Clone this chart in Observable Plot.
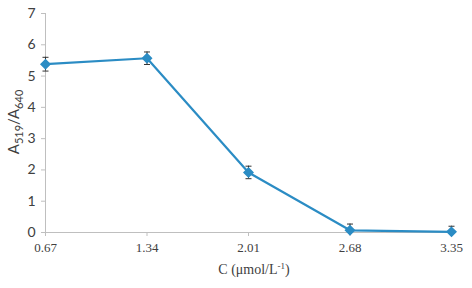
<!DOCTYPE html>
<html>
<head>
<meta charset="utf-8">
<script src="https://cdn.jsdelivr.net/npm/d3@7"></script>
<script src="https://cdn.jsdelivr.net/npm/@observablehq/plot@0.6"></script>
<style>
  html, body { margin: 0; padding: 0; background: #fff; }
  #chart svg { display: block; }
</style>
</head>
<body>
<div id="chart"></div>
<script>
const concentrations = [0.67, 1.34, 2.01, 2.68, 3.35];
const ratios = [5.38, 5.57, 1.92, 0.07, 0.02];
const errors = [0.22, 0.2, 0.2, 0.2, 0.18];
const yTicks = [0, 1, 2, 3, 4, 5, 6, 7];
const xTickLabels = ["0.67", "1.34", "2.01", "2.68", "3.35"];

const data = concentrations.map((c, i) => ({
  c, r: ratios[i], lo: Math.max(0, ratios[i] - errors[i]), hi: ratios[i] + errors[i]
}));

const blue = "#2b8cc4";
const axisGray = "#bfbfbf";

const capSymbol = {
  draw(ctx, size) {
    const w = Math.sqrt(size) / 2;
    ctx.moveTo(-w, 0);
    ctx.lineTo(w, 0);
  }
};

const plot = Plot.plot({
  width: 472,
  height: 288,
  marginLeft: 45,
  marginRight: 21,
  marginTop: 13,
  marginBottom: 56,
  style: { background: "#fff", overflow: "visible" },
  x: { type: "linear", domain: [0.67, 3.35] },
  y: { domain: [0, 7] },
  marks: [
    Plot.ruleX([0.67], { stroke: axisGray, strokeWidth: 1 }),
    Plot.ruleY([0], { stroke: axisGray, strokeWidth: 1 }),
    Plot.axisY({ ticks: yTicks, tickFormat: d => String(d), tickSize: 4, stroke: axisGray, tickPadding: 6, fontSize: 14, fill: "#404040", label: null, fontFamily: "Lato" }),
    Plot.axisX({ ticks: concentrations, tickFormat: (d, i) => xTickLabels[i], tickSize: 4, stroke: axisGray, tickPadding: 6, fontSize: 13, fill: "#404040", label: null, fontFamily: "Liberation Serif" }),
    Plot.line(data, { x: "c", y: "r", stroke: blue, strokeWidth: 2.2 }),
    Plot.ruleX(data, { x: "c", y1: "lo", y2: "hi", stroke: "#333", strokeWidth: 1 }),
    Plot.dot(data, { x: "c", y: "hi", symbol: capSymbol, r: 3.4, stroke: "#333", fill: "none", strokeWidth: 1 }),
    Plot.dot(data.filter(d => d.lo > 0), { x: "c", y: "lo", symbol: capSymbol, r: 3.4, stroke: "#333", fill: "none", strokeWidth: 1 }),
    Plot.dot(data, { x: "c", y: "r", symbol: "diamond2", r: 4, fill: blue, stroke: blue })
  ]
});

document.getElementById("chart").appendChild(plot);

const svg = d3.select(plot);
const ylab = svg.append("text")
  .attr("transform", "translate(19,122) rotate(-90)")
  .attr("text-anchor", "middle")
  .attr("font-family", "Lato")
  .attr("font-size", 15)
  .attr("fill", "#404040");
ylab.append("tspan").text("A");
ylab.append("tspan").attr("font-size", 11).attr("dy", 4).text("519");
ylab.append("tspan").attr("dy", -4).text("/A");
ylab.append("tspan").attr("font-size", 11).attr("dy", 4).text("640");

const xlab = svg.append("text")
  .attr("x", 254)
  .attr("y", 274)
  .attr("text-anchor", "middle")
  .attr("font-family", "Liberation Serif")
  .attr("font-size", 14)
  .attr("fill", "#404040");
xlab.append("tspan").text("C (μmol/L");
xlab.append("tspan").attr("font-size", 9).attr("dy", -5).text("-1");
xlab.append("tspan").attr("dy", 5).text(")");
</script>
</body>
</html>
